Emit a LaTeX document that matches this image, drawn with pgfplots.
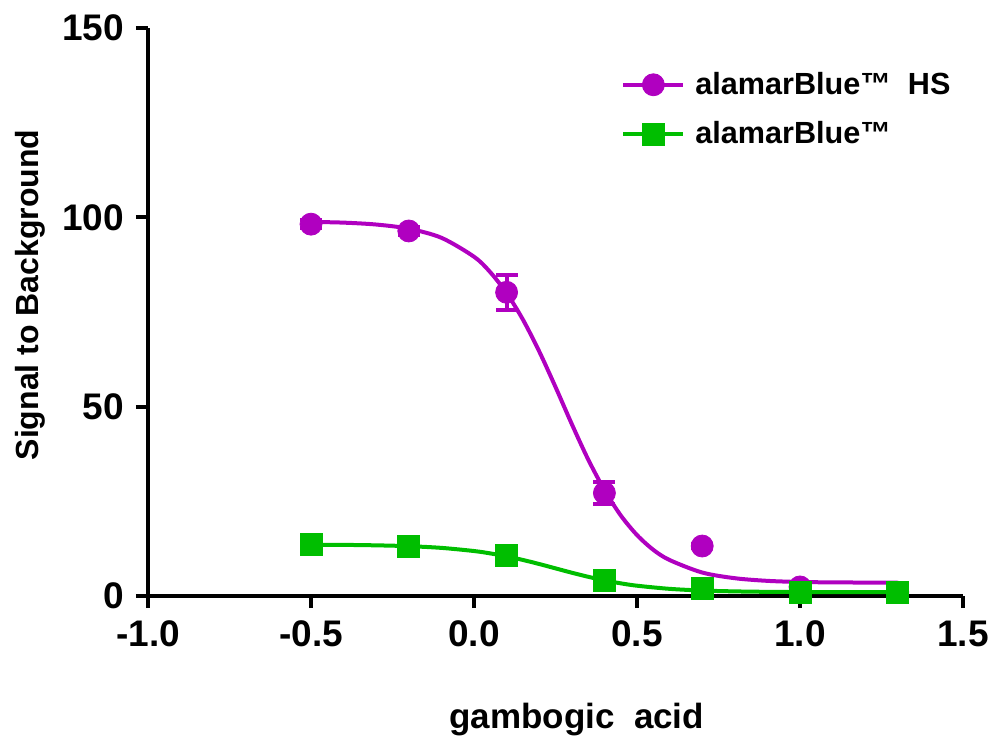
\documentclass[border=0pt]{standalone}
\usepackage{fontspec}
\setmainfont{Liberation Sans}
\usepackage{pgfplots}
\pgfplotsset{compat=1.18}

\definecolor{hsmag}{RGB}{176,0,192}
\definecolor{abgreen}{RGB}{0,190,0}

\begin{document}
\begin{tikzpicture}
\begin{axis}[
  at={(0,0)}, anchor=south west,
  scale only axis,
  width=407.5pt, height=284pt,
  xmin=-1, xmax=1.5, ymin=0, ymax=150,
  axis x line=bottom, axis y line=left,
  axis line style={-, line width=2pt},
  tick align=outside,
  major tick length=6pt,
  tick style={line width=2pt, black},
  xtick={-1,-0.5,0,0.5,1,1.5},
  ytick={0,50,100,150},
  minor tick num=0,
  /pgf/number format/assume math mode=true,
  xticklabel style={yshift=-3pt, /pgf/number format/.cd, fixed, fixed zerofill, precision=1},
  yticklabel style={xshift=-2.5pt, /pgf/number format/.cd, fixed, precision=0},
  tick label style={font=\bfseries\fontsize{18.5}{22}\selectfont},
  xlabel={gambogic\ \ acid},
  ylabel={Signal to Background},
  xlabel style={font=\bfseries\fontsize{17.5}{20}\selectfont, at={(axis description cs:0.526,-0.218)}, anchor=center},
  ylabel style={font=\bfseries\fontsize{16}{19}\selectfont, at={(axis description cs:-0.145,0.53)}, anchor=center},
  legend style={draw=none, fill=none, at={(rel axis cs:0.573,0.937)}, anchor=north west,
    font=\bfseries\fontsize{15.3}{18}\selectfont, row sep=8pt,
    /tikz/every odd column/.append style={column sep=3pt}},
  legend cell align=left,
  legend image code/.code={
    \draw[#1, line width=2pt] (0pt,0pt) -- (30pt,0pt);
    \draw[#1, mark repeat=2, mark phase=2] plot coordinates {(0pt,0pt) (15pt,0pt) (30pt,0pt)};
  },
]

% fitted curves
\addplot[hsmag, line width=2pt, smooth, forget plot] coordinates {
  (-0.5,98.8) (-0.4,98.6) (-0.3,98.1) (-0.2,97.0) (-0.1,94.6) (0.0,89.6)
  (0.05,85.5) (0.1,80.0) (0.15,73.0) (0.2,64.6) (0.25,55.2) (0.3,45.4)
  (0.35,36.1) (0.4,28.0) (0.45,21.3) (0.5,16.1) (0.55,12.2) (0.6,9.5)
  (0.7,6.2) (0.8,4.7) (0.9,4.0) (1.0,3.7) (1.1,3.6) (1.2,3.55) (1.3,3.5)
};
\addplot[abgreen, line width=2pt, smooth, forget plot] coordinates {
  (-0.5,13.55) (-0.4,13.5) (-0.3,13.38) (-0.2,13.16) (-0.1,12.71) (0.0,11.88)
  (0.05,11.25) (0.1,10.47) (0.15,9.52) (0.2,8.45) (0.25,7.3) (0.3,6.15)
  (0.35,5.08) (0.4,4.13) (0.45,3.35) (0.5,2.72) (0.6,1.89) (0.7,1.44)
  (0.8,1.22) (0.9,1.1) (1.0,1.05) (1.1,1.02) (1.3,1.0)
};

% measured points
\addplot[hsmag, only marks, mark=*, mark size=5.5pt, forget plot,
  error bars/.cd, y dir=both, y explicit,
  error bar style={line width=2pt},
  error mark options={rotate=90, mark size=5.5pt, line width=2pt}]
  coordinates {
  (-0.5,98.2) +- (0,1.0)
  (-0.2,96.4) +- (0,1.0)
  (0.1,80.2) +- (0,4.6)
  (0.4,27.2) +- (0,3.0)
  (0.7,13.2) +- (0,0.5)
  (1.0,2.4) +- (0,0.5)
  (1.3,1.0) +- (0,0.5)
};
\addplot[abgreen, only marks, mark=square*, mark size=5.5pt, forget plot] coordinates {
  (-0.5,13.5) (-0.2,13.2) (0.1,10.6) (0.4,4.0) (0.7,2.1) (1.0,1.0) (1.3,1.0)
};

\addlegendimage{hsmag, mark=*, mark size=5.5pt}
\addlegendentry{alamarBlue™\ \ HS}
\addlegendimage{abgreen, mark=square*, mark size=5.5pt}
\addlegendentry{alamarBlue™}
\end{axis}
\pgfresetboundingbox
\useasboundingbox (-74pt,-74.5pt) rectangle (426pt,298pt);
\end{tikzpicture}
\end{document}
